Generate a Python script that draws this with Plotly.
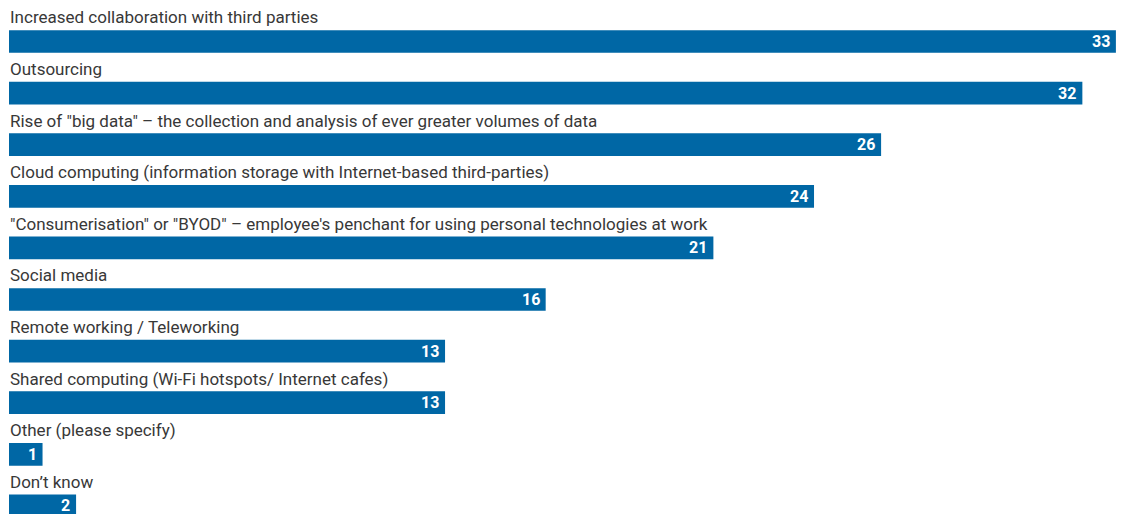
import plotly.graph_objects as go

categories = [
    "Increased collaboration with third parties",
    "Outsourcing",
    "Rise of \"big data\" \u2013 the collection and analysis of ever greater volumes of data",
    "Cloud computing (information storage with Internet-based third-parties)",
    "\"Consumerisation\" or \"BYOD\" \u2013 employee's penchant for using personal technologies at work",
    "Social media",
    "Remote working / Teleworking",
    "Shared computing (Wi-Fi hotspots/ Internet cafes)",
    "Other (please specify)",
    "Don\u2019t know",
]
values = [33, 32, 26, 24, 21, 16, 13, 13, 1, 2]

FONT = "Roboto, Noto Sans, sans-serif"
BAR = "#0067a5"
pos = list(range(len(categories)))

fig = go.Figure()
fig.add_trace(go.Bar(
    x=values, y=pos, orientation="h", width=0.44,
    marker=dict(color=BAR, line=dict(width=0)),
    hoverinfo="skip",
))

for i, (c, v) in enumerate(zip(categories, values)):
    fig.add_annotation(x=0, y=i, xref="x", yref="y", text=c, showarrow=False,
                       xanchor="left", yanchor="middle", yshift=24, xshift=-1,
                       font=dict(family=FONT, size=17, color="#383838"))
    fig.add_annotation(x=v, y=i, xref="x", yref="y", text=str(v), showarrow=False,
                       xanchor="right", yanchor="middle", xshift=-4, yshift=0,
                       font=dict(family=FONT, size=16, color="white", weight="bold"))

fig.update_layout(
    width=1132, height=514,
    margin=dict(l=9, r=0, t=0, b=0),
    plot_bgcolor="white", paper_bgcolor="white",
    showlegend=False,
    xaxis=dict(range=[0, 33.48], visible=False),
    yaxis=dict(range=[9.157, -0.804], visible=False),
)
fig.write_html("out.html", config={"displayModeBar": False},
               post_script="document.body.style.margin='0';")
